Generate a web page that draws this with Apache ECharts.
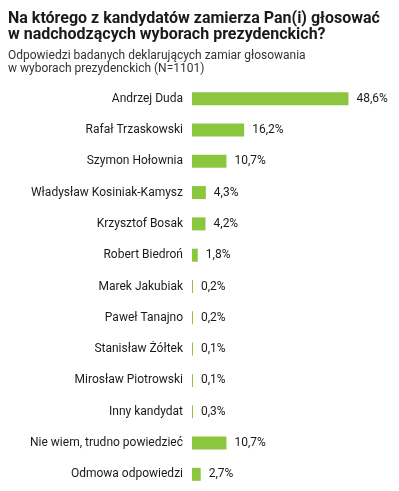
<!DOCTYPE html>
<html>
<head>
<meta charset="utf-8">
<script src="https://cdn.jsdelivr.net/npm/echarts@6/dist/echarts.min.js"></script>
<style>
  html, body { margin: 0; padding: 0; background: #fff; }
  #main { width: 399px; height: 491px; }
</style>
</head>
<body>
<div id="main"></div>
<script>
// dane z wykresu
var categories = ['Andrzej Duda', 'Rafał Trzaskowski', 'Szymon Hołownia', 'Władysław Kosiniak-Kamysz',
  'Krzysztof Bosak', 'Robert Biedroń', 'Marek Jakubiak', 'Paweł Tanajno', 'Stanisław Żółtek',
  'Mirosław Piotrowski', 'Inny kandydat', 'Nie wiem, trudno powiedzieć', 'Odmowa odpowiedzi']
var values = [48.6, 16.2, 10.7, 4.3, 4.2, 1.8, 0.2, 0.2, 0.1, 0.1, 0.3, 10.7, 2.7]

var myChart = echarts.init(document.getElementById('main'))

var option = {
  textStyle: { fontFamily: 'Roboto' },
  title: {
    left: 3,
    top: 6,
    itemGap: 6,
    text: 'Na którego z kandydatów zamierza Pan(i) głosować\nw nadchodzących wyborach prezydenckich?',
    textStyle: { fontFamily: 'Roboto', fontSize: 16, fontWeight: 'bold', color: '#1a1a1a', lineHeight: 16 },
    subtext: 'Odpowiedzi badanych deklarujących zamiar głosowania\nw wyborach prezydenckich (N=1101)',
    subtextStyle: { fontFamily: 'Roboto', fontSize: 12, color: '#333', lineHeight: 13 }
  },
  grid: {
    left: 192,
    top: 83,
    height: 407,
    width: 161,
    containLabel: false
  },
  xAxis: {
    type: 'value',
    min: 0,
    max: 50,
    show: false
  },
  yAxis: {
    type: 'category',
    data: categories,
    inverse: true,
    axisLine: { show: false },
    axisTick: { show: false },
    axisLabel: { fontSize: 12, color: '#1a1a1a', margin: 9 }
  },
  series: [
    {
      type: 'bar',
      data: values,
      barWidth: 13,
      barMinHeight: 1,
      itemStyle: { color: '#8cc63f' },
      label: {
        show: true,
        position: 'right',
        distance: 8,
        fontSize: 12,
        color: '#1a1a1a',
        formatter: function (p) { return p.value.toFixed(1).replace('.', ',') + '%' }
      }
    }
  ]
}

myChart.setOption(option)
</script>
</body>
</html>
